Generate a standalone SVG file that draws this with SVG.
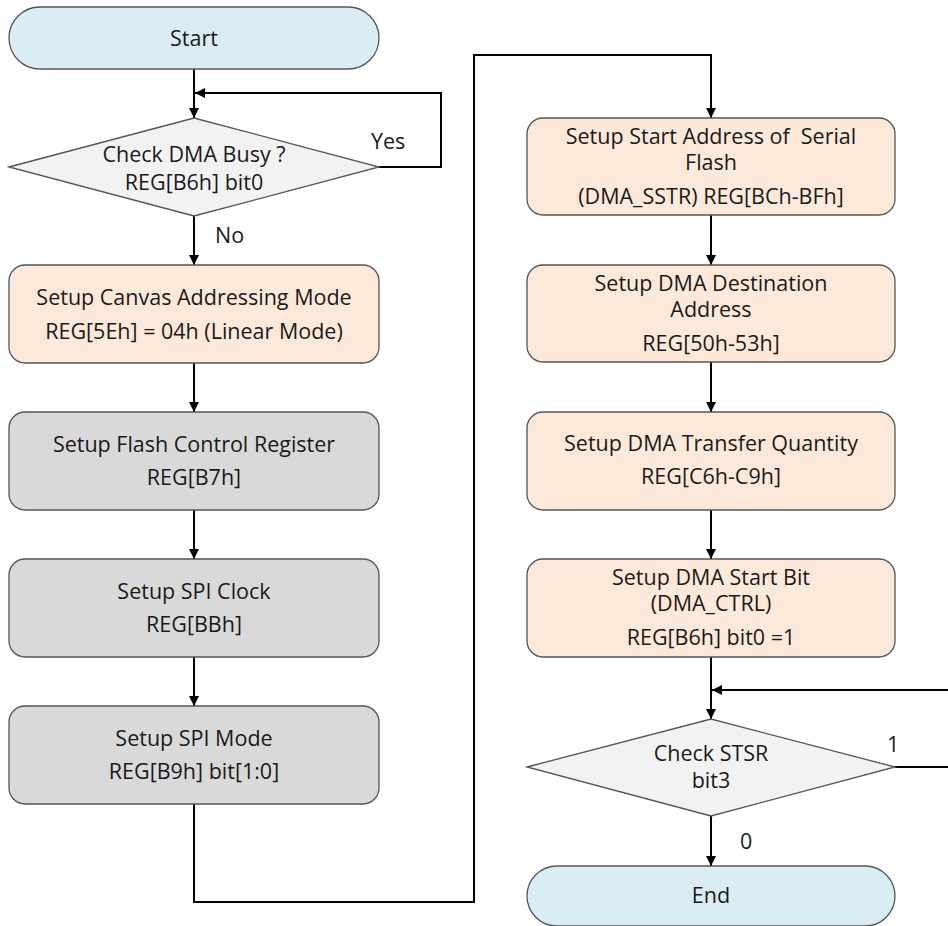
<svg xmlns="http://www.w3.org/2000/svg" width="948" height="926" viewBox="0 0 948 926">
<defs>
<marker id="ah" viewBox="0 0 10 10" refX="10" refY="5" markerWidth="10" markerHeight="10" markerUnits="userSpaceOnUse" orient="auto">
<path d="M0,0 L10,5 L0,10 z" fill="#000"/>
</marker>
<style>
.term{fill:#dbedf4;stroke:#555;stroke-width:1.3}
.peach{fill:#fde9d9;stroke:#555;stroke-width:1.3}
.gray{fill:#d9d9d9;stroke:#555;stroke-width:1.3}
.dec{fill:#f2f2f2;stroke:#555;stroke-width:1.3}
text{font-family:"Open Sans","Noto Sans","Liberation Sans",sans-serif;font-size:21.5px;fill:#1a1a1a;text-anchor:middle;white-space:pre}
.lbl{text-anchor:start}
.con{fill:none;stroke:#000;stroke-width:2}
</style>
</defs>
<rect width="948" height="926" fill="#fff"/>
<g id="connectors">
<path class="con" d="M194,69 V118" marker-end="url(#ah)"/>
<path class="con" d="M379,167 H441 V93 H195" marker-end="url(#ah)"/>
<path class="con" d="M194,216 V265" marker-end="url(#ah)"/>
<path class="con" d="M194,363 V412" marker-end="url(#ah)"/>
<path class="con" d="M194,510 V559" marker-end="url(#ah)"/>
<path class="con" d="M194,657 V706" marker-end="url(#ah)"/>
<path class="con" d="M194,804 V902 H474 V55 H711 V118" marker-end="url(#ah)"/>
<path class="con" d="M711,215 V265" marker-end="url(#ah)"/>
<path class="con" d="M711,362 V412" marker-end="url(#ah)"/>
<path class="con" d="M711,510 V559" marker-end="url(#ah)"/>
<path class="con" d="M711,657 V719" marker-end="url(#ah)"/>
<path class="con" d="M895,767 H950 M950,690 H712" marker-end="url(#ah)"/>
<path class="con" d="M711,816 V866" marker-end="url(#ah)"/>
<text class="lbl" x="371" y="149">Yes</text>
<text class="lbl" x="215" y="243">No</text>
<text class="lbl" x="887" y="752">1</text>
<text class="lbl" x="740" y="849">0</text>
</g>
<g id="start">
<rect class="term" x="9" y="7" width="370" height="62" rx="31"/>
<text x="194" y="46">Start</text>
</g>
<g id="checkBusy">
<polygon class="dec" points="9,167 194,118 379,167 194,216"/>
<text x="194" y="162">Check DMA Busy ?</text>
<text x="194" y="190">REG[B6h] bit0</text>
</g>
<g id="canvasMode">
<rect class="peach" x="9" y="265" width="370" height="98" rx="16"/>
<text x="194" y="305">Setup Canvas Addressing Mode</text>
<text x="194" y="339">REG[5Eh] = 04h (Linear Mode)</text>
</g>
<g id="flashCtrl">
<rect class="gray" x="9" y="412" width="370" height="98" rx="16"/>
<text x="194" y="452">Setup Flash Control Register</text>
<text x="194" y="485">REG[B7h]</text>
</g>
<g id="spiClock">
<rect class="gray" x="9" y="559" width="370" height="98" rx="16"/>
<text x="194" y="599">Setup SPI Clock</text>
<text x="194" y="632">REG[BBh]</text>
</g>
<g id="spiMode">
<rect class="gray" x="9" y="706" width="370" height="98" rx="16"/>
<text x="194" y="746">Setup SPI Mode</text>
<text x="194" y="779">REG[B9h] bit[1:0]</text>
</g>
<g id="startAddr">
<rect class="peach" x="527" y="118" width="368" height="97" rx="16"/>
<text x="711" y="144">Setup Start Address of  Serial</text>
<text x="711" y="170">Flash</text>
<text x="711" y="204">(DMA_SSTR) REG[BCh-BFh]</text>
</g>
<g id="destAddr">
<rect class="peach" x="527" y="265" width="368" height="97" rx="16"/>
<text x="711" y="291">Setup DMA Destination</text>
<text x="711" y="317">Address</text>
<text x="711" y="351">REG[50h-53h]</text>
</g>
<g id="quantity">
<rect class="peach" x="527" y="412" width="368" height="98" rx="16"/>
<text x="711" y="451">Setup DMA Transfer Quantity</text>
<text x="711" y="484">REG[C6h-C9h]</text>
</g>
<g id="startBit">
<rect class="peach" x="527" y="559" width="368" height="98" rx="16"/>
<text x="711" y="585">Setup DMA Start Bit</text>
<text x="711" y="611">(DMA_CTRL)</text>
<text x="711" y="645">REG[B6h] bit0 =1</text>
</g>
<g id="checkSTSR">
<polygon class="dec" points="527,767 711,719 895,767 711,816"/>
<text x="711" y="761">Check STSR</text>
<text x="711" y="788">bit3</text>
</g>
<g id="end">
<rect class="term" x="527" y="866" width="368" height="60" rx="30"/>
<text x="711" y="903">End</text>
</g>
</svg>
